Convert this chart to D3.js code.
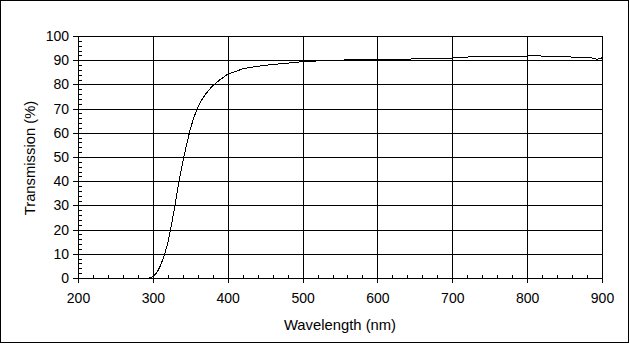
<!DOCTYPE html>
<html><head><meta charset="utf-8">
<script src="https://cdn.jsdelivr.net/npm/d3@7"></script>
<style>body{margin:0;background:#fff}svg{display:block}text{font-family:Arial,"Liberation Sans",sans-serif;fill:#000}</style>
</head><body>
<script>
const wavelength = [295,300,305,310,315,320,325,330,335,340,345,350,355,360,365,370,380,390,400,410,420,430,440,450,460,480,500,520,540,560,600,640,650,700,715,750,790,800,810,820,850,870,885,893,897,900];
const transmission = [0,0.6,2,5,9,14.5,22,31,40,48,55,61.5,66.5,70.5,73.5,75.8,79.5,82,84.2,85.3,86.4,87,87.5,87.9,88.2,88.8,89.4,89.7,90.0,90.1,90.2,90.3,90.7,90.9,91.3,91.4,91.5,91.7,92.0,91.7,91.5,91.1,91.0,90.4,90.6,91.0];
const xTicks = [200,300,400,500,600,700,800,900];
const yTicks = [0,10,20,30,40,50,60,70,80,90,100];
const xTitle = "Wavelength (nm)";
const yTitle = "Transmission (%)";

const W=630,H=344;
const L=78,R=602,T=36,B=278;
const svg=d3.select("body").append("svg").attr("width",W).attr("height",H);
svg.append("rect").attr("x",0.5).attr("y",0.5).attr("width",W-2).attr("height",H-2).attr("fill","#fff").attr("stroke","#000");
const x=d3.scaleLinear().domain([200,900]).range([L,R]);
const y=d3.scaleLinear().domain([0,100]).range([B,T]);
const g=svg.append("g").attr("shape-rendering","crispEdges");
// grid
g.selectAll(".gx").data(xTicks).join("line").attr("x1",d=>Math.round(x(d))+0.5).attr("x2",d=>Math.round(x(d))+0.5).attr("y1",T).attr("y2",B).attr("stroke","#000");
g.selectAll(".gy").data(yTicks).join("line").attr("y1",d=>Math.round(y(d))+0.5).attr("y2",d=>Math.round(y(d))+0.5).attr("x1",L).attr("x2",R).attr("stroke","#000");
// minor ticks
const xMinor=d3.range(200,901,20).filter(v=>v%100!==0);
const yMinor=d3.range(0,101,2).filter(v=>v%10!==0);
g.selectAll(".mx").data(xMinor).join("line").attr("x1",d=>Math.round(x(d))+0.5).attr("x2",d=>Math.round(x(d))+0.5).attr("y1",B-3).attr("y2",B).attr("stroke","#000");
g.selectAll(".my").data(yMinor).join("line").attr("y1",d=>Math.round(y(d))+0.5).attr("y2",d=>Math.round(y(d))+0.5).attr("x1",L).attr("x2",L+4).attr("stroke","#000");
// major outside ticks
g.selectAll(".tx").data(xTicks).join("line").attr("x1",d=>Math.round(x(d))+0.5).attr("x2",d=>Math.round(x(d))+0.5).attr("y1",B).attr("y2",B+5).attr("stroke","#000");
g.selectAll(".ty").data(yTicks).join("line").attr("y1",d=>Math.round(y(d))+0.5).attr("y2",d=>Math.round(y(d))+0.5).attr("x1",L-5).attr("x2",L).attr("stroke","#000");
// labels
svg.selectAll(".lx").data(xTicks).join("text").attr("x",d=>x(d)+0.5).attr("y",B+25).attr("text-anchor","middle").attr("font-size",14).text(d=>d);
svg.selectAll(".ly").data(yTicks).join("text").attr("x",L-9).attr("y",d=>y(d)+5).attr("text-anchor","end").attr("font-size",14).text(d=>d);
svg.append("text").attr("x",(L+R)/2).attr("y",330).attr("text-anchor","middle").attr("font-size",14.8).text(xTitle);
svg.append("text").attr("transform",`translate(35,${(T+B)/2+1}) rotate(-90)`).attr("text-anchor","middle").attr("font-size",14.8).text(yTitle);
// curve
const pts=wavelength.map((w,i)=>[w,transmission[i]]);
svg.append("path").datum(pts).attr("fill","none").attr("stroke","#000").attr("stroke-width",1).attr("shape-rendering","crispEdges")
 .attr("d",d3.line().x(d=>x(d[0])).y(d=>y(d[1])));
</script>
</body></html>
